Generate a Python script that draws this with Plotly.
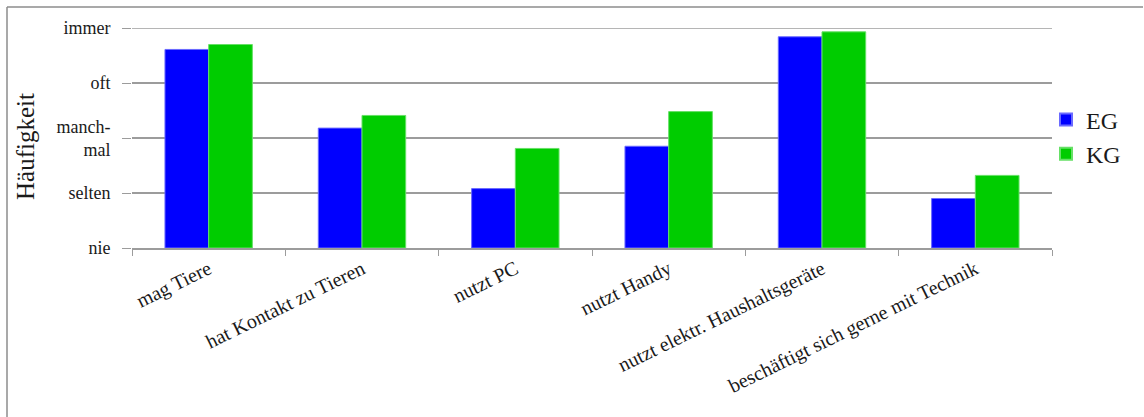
import plotly.graph_objects as go

# Frequency ratings per activity (0 = nie ... 4 = immer)
categories = [
    "mag Tiere",
    "hat Kontakt zu Tieren",
    "nutzt PC",
    "nutzt Handy",
    "nutzt elektr. Haushaltsgeräte",
    "beschäftigt sich gerne mit Technik",
]
eg_values = [3.61, 2.18, 1.08, 1.85, 3.84, 0.90]
kg_values = [3.70, 2.41, 1.81, 2.48, 3.93, 1.32]

tick_values = [0, 1, 2, 3, 4]
tick_labels = ["nie", "selten", "manch-<br>mal", "oft", "immer"]

FONT = "Liberation Serif"
GRID = "#9c9c9c"

# plot area in pixels
L, R, T, B = 132, 92, 28, 169
W, H = 1144, 417
PW, PH = W - L - R, H - T - B

fig = go.Figure()
fig.add_trace(go.Bar(
    name="EG", x=categories, y=eg_values,
    marker=dict(color="#0000ff", line=dict(color="#6a6aff", width=1)),
))
fig.add_trace(go.Bar(
    name="KG", x=categories, y=kg_values,
    marker=dict(color="#00cc00", line=dict(color="#66e066", width=1)),
))

fig.update_layout(
    width=W, height=H,
    margin=dict(l=L, r=R, t=T, b=B, autoexpand=False),
    paper_bgcolor="white", plot_bgcolor="white",
    barmode="group", bargap=0.43, bargroupgap=0,
    font=dict(family=FONT, color="#1a1a1a", size=18),
    showlegend=True,
    legend=dict(
        xref="container", yref="container",
        x=1046 / W, y=1 - 137 / H, xanchor="left", yanchor="middle",
        font=dict(family=FONT, size=24, color="#1a1a1a"),
        itemsizing="constant", tracegroupgap=0,
        bgcolor="rgba(0,0,0,0)",
    ),
    xaxis=dict(
        type="category",
        tickangle=-26,
        tickson="boundaries",
        ticks="outside", ticklen=6, tickcolor=GRID,
        showline=True, linecolor=GRID, linewidth=1.5,
        showgrid=False,
        tickfont=dict(family=FONT, size=20, color="#1a1a1a"),
    ),
    yaxis=dict(
        range=[0, 4],
        tickvals=tick_values, ticktext=tick_labels,
        ticks="outside", ticklen=9, tickcolor=GRID,
        showgrid=True, gridcolor=GRID, gridwidth=1.5,
        zeroline=False, showline=False,
        tickfont=dict(family=FONT, size=18, color="#1a1a1a"),
        ticklabelstandoff=8,
    ),
    annotations=[dict(
        text="Häufigkeit", textangle=-90,
        xref="paper", yref="paper",
        x=(25 - L) / PW, y=1 - (147 - T) / PH,
        xanchor="center", yanchor="middle",
        showarrow=False,
        font=dict(family=FONT, size=25, color="#1a1a1a"),
    )],
    shapes=[
        # top gridline at "immer"
        dict(type="line", xref="paper", yref="y",
             x0=0, x1=1, y0=4, y1=4,
             line=dict(color=GRID, width=1.5)),
        # outer frame: top and left edges
        dict(type="line", xref="paper", yref="paper",
             x0=(7 - L) / PW, x1=(1143 - L) / PW,
             y0=1 + (T - 7) / PH, y1=1 + (T - 7) / PH,
             line=dict(color="#8c8c8c", width=1.5)),
        dict(type="line", xref="paper", yref="paper",
             x0=(7 - L) / PW, x1=(7 - L) / PW,
             y0=1 + (T - 7) / PH, y1=-B / PH,
             line=dict(color="#8c8c8c", width=1.5)),
    ],
)

fig.write_html("out.html")
